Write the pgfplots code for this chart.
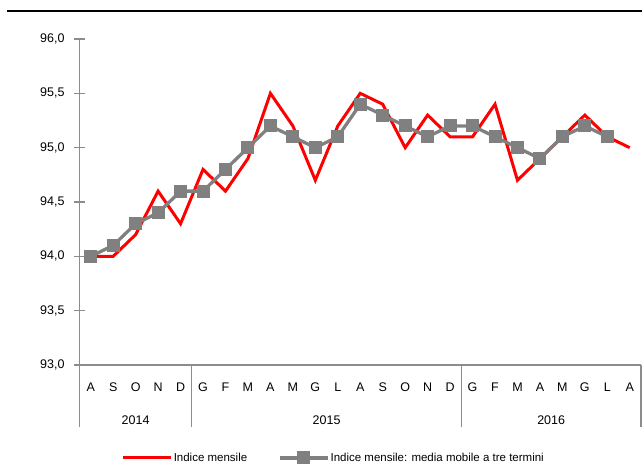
\documentclass[border=0pt]{standalone}
\usepackage{pgfplots}
\pgfplotsset{compat=1.18}
\usepackage{fontspec}
\setmainfont{Liberation Sans}
\definecolor{linegray}{HTML}{808080}
\definecolor{axgray}{HTML}{8C8C8C}
\begin{document}
\begin{tikzpicture}
\path[use as bounding box] (0,0) rectangle (642bp,-470bp);
\draw[black, line width=2.7bp] (7bp,-11bp) -- (642bp,-11bp);
\begin{axis}[
  at={(79.5bp,-365bp)}, anchor=south west,
  scale only axis, width=561.5bp, height=326bp,
  xmin=-0.5, xmax=24.5, ymin=93, ymax=96,
  axis lines*=left,
  axis line style={axgray, line width=1.2bp},
  xtick={0,...,24},
  xticklabels={A,S,O,N,D,G,F,M,A,M,G,L,A,S,O,N,D,G,F,M,A,M,G,L,A},
  major tick length=11bp,
  ytick align=center,
  ytick={93,93.5,...,96},
  every major x tick/.style={draw=none},
  ytick style={axgray, line width=1.2bp},
  /pgf/number format/assume math mode=true,
  yticklabel={\pgfmathprintnumber[fixed,fixed zerofill,precision=1,use comma]{\tick}},
  tick label style={font=\fontsize{12.5bp}{14bp}\selectfont},
  xticklabel style={anchor=center, yshift=-22bp},
  yticklabel style={anchor=east, xshift=-6bp},
  legend columns=2,
  legend style={at={(0.452,-0.285)}, anchor=center, draw=none, fill=none,
    font=\fontsize{11.5bp}{13bp}\selectfont,
    /tikz/every even column/.append style={column sep=30bp},
    nodes={inner sep=1bp}},
  legend image code/.code={\draw[mark repeat=2,mark phase=2,#1] plot coordinates {(0bp,0bp)(24bp,0bp)(48bp,0bp)};},
  clip=false,
]
\addplot[red, line width=3bp] coordinates {
(0,94.0) (1,94.0) (2,94.2) (3,94.6) (4,94.3) (5,94.8) (6,94.6) (7,94.9)
(8,95.5) (9,95.2) (10,94.7) (11,95.2) (12,95.5) (13,95.4) (14,95.0) (15,95.3)
(16,95.1) (17,95.1) (18,95.4) (19,94.7) (20,94.9) (21,95.1) (22,95.3) (23,95.1) (24,95.0)};
\addlegendentry{Indice mensile}
\addplot[linegray, line width=3.3bp, mark=square*, mark size=6bp, mark options={solid, fill=linegray, draw=linegray, line width=0bp}] coordinates {
(0,94.0) (1,94.1) (2,94.3) (3,94.4) (4,94.6) (5,94.6) (6,94.8) (7,95.0)
(8,95.2) (9,95.1) (10,95.0) (11,95.1) (12,95.4) (13,95.3) (14,95.2) (15,95.1)
(16,95.2) (17,95.2) (18,95.1) (19,95.0) (20,94.9) (21,95.1) (22,95.2) (23,95.1)};
\addlegendentry{Indice mensile: media mobile a tre termini}
\draw[axgray, line width=1.2bp] (axis cs:-0.5,93) -- ([yshift=-62bp]axis cs:-0.5,93);
\draw[axgray, line width=1.2bp] (axis cs:4.5,93) -- ([yshift=-62bp]axis cs:4.5,93);
\draw[axgray, line width=1.2bp] (axis cs:16.5,93) -- ([yshift=-62bp]axis cs:16.5,93);
\draw[axgray, line width=1.2bp] (axis cs:24.5,93) -- ([yshift=-62bp]axis cs:24.5,93);
\node[font=\fontsize{12.5bp}{14bp}\selectfont] at ([yshift=-55bp]axis cs:2,93) {2014};
\node[font=\fontsize{12.5bp}{14bp}\selectfont] at ([yshift=-55bp]axis cs:10.5,93) {2015};
\node[font=\fontsize{12.5bp}{14bp}\selectfont] at ([yshift=-55bp]axis cs:20.5,93) {2016};
\end{axis}
\end{tikzpicture}
\end{document}
